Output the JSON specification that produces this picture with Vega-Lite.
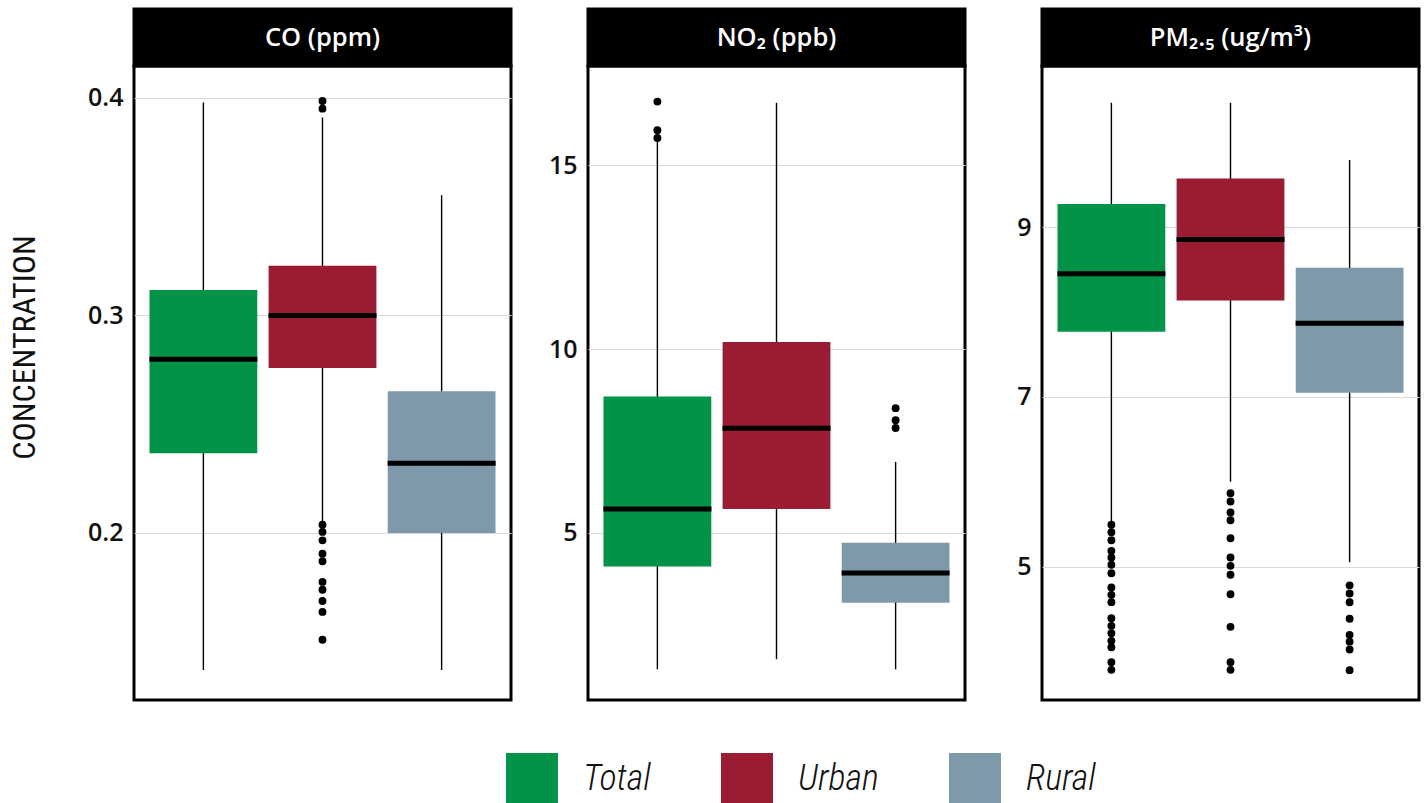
{
  "$schema": "https://vega.github.io/schema/vega-lite/v6.json",
  "background": "white",
  "padding": {"left": 6, "top": 7, "right": 0, "bottom": 0},
  "datasets": {
    "box": [
      {"pollutant": "CO", "group": "Total", "lo": 0.137, "q1": 0.2367, "med": 0.2799, "q3": 0.3117, "hi": 0.3979},
      {"pollutant": "CO", "group": "Urban", "lo": 0.2052, "q1": 0.2759, "med": 0.3, "q3": 0.3229, "hi": 0.391},
      {"pollutant": "CO", "group": "Rural", "lo": 0.137, "q1": 0.2, "med": 0.232, "q3": 0.2651, "hi": 0.3553},
      {"pollutant": "NO2", "group": "Total", "lo": 1.275, "q1": 4.075, "med": 5.64, "q3": 8.71, "hi": 15.65},
      {"pollutant": "NO2", "group": "Urban", "lo": 1.55, "q1": 5.64, "med": 7.84, "q3": 10.19, "hi": 16.71},
      {"pollutant": "NO2", "group": "Rural", "lo": 1.275, "q1": 3.09, "med": 3.9, "q3": 4.725, "hi": 6.925},
      {"pollutant": "PM", "group": "Total", "lo": 5.53, "q1": 7.771, "med": 8.453, "q3": 9.276, "hi": 10.472},
      {"pollutant": "PM", "group": "Urban", "lo": 6.0, "q1": 8.139, "med": 8.859, "q3": 9.579, "hi": 10.472},
      {"pollutant": "PM", "group": "Rural", "lo": 5.049, "q1": 7.051, "med": 7.869, "q3": 8.524, "hi": 9.796}
    ],
    "out": [
      {"pollutant": "CO", "group": "Urban", "value": 0.3986},
      {"pollutant": "CO", "group": "Urban", "value": 0.3951},
      {"pollutant": "CO", "group": "Urban", "value": 0.2038},
      {"pollutant": "CO", "group": "Urban", "value": 0.2005},
      {"pollutant": "CO", "group": "Urban", "value": 0.1966},
      {"pollutant": "CO", "group": "Urban", "value": 0.1905},
      {"pollutant": "CO", "group": "Urban", "value": 0.187},
      {"pollutant": "CO", "group": "Urban", "value": 0.1775},
      {"pollutant": "CO", "group": "Urban", "value": 0.1739},
      {"pollutant": "CO", "group": "Urban", "value": 0.1687},
      {"pollutant": "CO", "group": "Urban", "value": 0.1637},
      {"pollutant": "CO", "group": "Urban", "value": 0.1509},
      {"pollutant": "NO2", "group": "Total", "value": 16.74},
      {"pollutant": "NO2", "group": "Total", "value": 15.96},
      {"pollutant": "NO2", "group": "Total", "value": 15.75},
      {"pollutant": "NO2", "group": "Rural", "value": 8.39},
      {"pollutant": "NO2", "group": "Rural", "value": 8.06},
      {"pollutant": "NO2", "group": "Rural", "value": 7.85},
      {"pollutant": "PM", "group": "Total", "value": 5.492},
      {"pollutant": "PM", "group": "Total", "value": 5.405},
      {"pollutant": "PM", "group": "Total", "value": 5.31},
      {"pollutant": "PM", "group": "Total", "value": 5.185},
      {"pollutant": "PM", "group": "Total", "value": 5.106},
      {"pollutant": "PM", "group": "Total", "value": 5.02},
      {"pollutant": "PM", "group": "Total", "value": 4.921},
      {"pollutant": "PM", "group": "Total", "value": 4.752},
      {"pollutant": "PM", "group": "Total", "value": 4.666},
      {"pollutant": "PM", "group": "Total", "value": 4.579},
      {"pollutant": "PM", "group": "Total", "value": 4.39},
      {"pollutant": "PM", "group": "Total", "value": 4.3},
      {"pollutant": "PM", "group": "Total", "value": 4.213},
      {"pollutant": "PM", "group": "Total", "value": 4.123},
      {"pollutant": "PM", "group": "Total", "value": 4.048},
      {"pollutant": "PM", "group": "Total", "value": 3.871},
      {"pollutant": "PM", "group": "Total", "value": 3.781},
      {"pollutant": "PM", "group": "Urban", "value": 5.865},
      {"pollutant": "PM", "group": "Urban", "value": 5.767},
      {"pollutant": "PM", "group": "Urban", "value": 5.637},
      {"pollutant": "PM", "group": "Urban", "value": 5.546},
      {"pollutant": "PM", "group": "Urban", "value": 5.334},
      {"pollutant": "PM", "group": "Urban", "value": 5.106},
      {"pollutant": "PM", "group": "Urban", "value": 5.008},
      {"pollutant": "PM", "group": "Urban", "value": 4.902},
      {"pollutant": "PM", "group": "Urban", "value": 4.673},
      {"pollutant": "PM", "group": "Urban", "value": 4.288},
      {"pollutant": "PM", "group": "Urban", "value": 3.871},
      {"pollutant": "PM", "group": "Urban", "value": 3.781},
      {"pollutant": "PM", "group": "Rural", "value": 4.778},
      {"pollutant": "PM", "group": "Rural", "value": 4.681},
      {"pollutant": "PM", "group": "Rural", "value": 4.578},
      {"pollutant": "PM", "group": "Rural", "value": 4.383},
      {"pollutant": "PM", "group": "Rural", "value": 4.194},
      {"pollutant": "PM", "group": "Rural", "value": 4.113},
      {"pollutant": "PM", "group": "Rural", "value": 4.021},
      {"pollutant": "PM", "group": "Rural", "value": 3.777}
    ]
  },
  "columns": 3,
  "spacing": {"row": 0, "column": 77},
  "bounds": "flush",
  "concat": [
    {
      "width": 377, "height": 57,
      "data": {"values": [{"label": "CO (ppm)"}]},
      "view": {"fill": "black", "stroke": "black", "strokeWidth": 3},
      "mark": {"type": "text", "color": "white", "font": "Open Sans", "fontSize": 25.5, "fontWeight": 600},
      "encoding": {"text": {"field": "label", "type": "nominal"}}
    },
    {
      "width": 377, "height": 57,
      "data": {"values": [{"label": "NO₂ (ppb)"}]},
      "view": {"fill": "black", "stroke": "black", "strokeWidth": 3},
      "mark": {"type": "text", "color": "white", "font": "Open Sans", "fontSize": 25.5, "fontWeight": 600},
      "encoding": {"text": {"field": "label", "type": "nominal"}}
    },
    {
      "width": 377, "height": 57,
      "data": {"values": [{"label": "PM₂.₅ (ug/m³)"}]},
      "view": {"fill": "black", "stroke": "black", "strokeWidth": 3},
      "mark": {"type": "text", "color": "white", "font": "Open Sans", "fontSize": 25.5, "fontWeight": 600},
      "encoding": {"text": {"field": "label", "type": "nominal"}}
    },
    {
      "width": 377, "height": 634,
      "view": {"stroke": "black", "strokeWidth": 3},
      "layer": [
        {
          "data": {"name": "box"},
          "transform": [{"filter": "datum.pollutant === 'CO'"}],
          "mark": {"type": "rule", "color": "black", "strokeWidth": 1.4},
          "encoding": {
            "x": {"field": "group", "type": "nominal", "scale": {"domain": ["Total", "Urban", "Rural"], "paddingInner": 0.095, "paddingOuter": 0.13}, "axis": null},
            "y": {"field": "lo", "type": "quantitative", "title": "CONCENTRATION", "scale": {"domain": [0.1232, 0.4147], "nice": false, "zero": false}, "axis": {"values": [0.2, 0.3, 0.4], "format": ".1f", "minExtent": 48, "maxExtent": 48, "titlePadding": 45, "titleY": 281}},
            "y2": {"field": "hi"}
          }
        },
        {
          "data": {"name": "box"},
          "transform": [{"filter": "datum.pollutant === 'CO'"}],
          "mark": {"type": "bar"},
          "encoding": {
            "x": {"field": "group", "type": "nominal", "scale": {"domain": ["Total", "Urban", "Rural"], "paddingInner": 0.095, "paddingOuter": 0.13}, "axis": null},
            "y": {"field": "q1", "type": "quantitative", "title": "CONCENTRATION", "scale": {"domain": [0.1232, 0.4147], "nice": false, "zero": false}},
            "y2": {"field": "q3"},
            "color": {"field": "group", "type": "nominal", "scale": {"domain": ["Total", "Urban", "Rural"], "range": ["#039348", "#9a1b32", "#7e99aa"]}}
          }
        },
        {
          "data": {"name": "box"},
          "transform": [{"filter": "datum.pollutant === 'CO'"}],
          "mark": {"type": "tick", "color": "black", "thickness": 5, "size": 108, "opacity": 1},
          "encoding": {
            "x": {"field": "group", "type": "nominal", "scale": {"domain": ["Total", "Urban", "Rural"], "paddingInner": 0.095, "paddingOuter": 0.13}, "axis": null},
            "y": {"field": "med", "type": "quantitative", "title": "CONCENTRATION", "scale": {"domain": [0.1232, 0.4147], "nice": false, "zero": false}}
          }
        },
        {
          "data": {"name": "out"},
          "transform": [{"filter": "datum.pollutant === 'CO'"}],
          "mark": {"type": "point", "filled": true, "color": "black", "size": 62, "opacity": 1},
          "encoding": {
            "x": {"field": "group", "type": "nominal", "scale": {"domain": ["Total", "Urban", "Rural"], "paddingInner": 0.095, "paddingOuter": 0.13}, "axis": null},
            "y": {"field": "value", "type": "quantitative", "title": "CONCENTRATION", "scale": {"domain": [0.1232, 0.4147], "nice": false, "zero": false}}
          }
        }
      ]
    },
    {
      "width": 377, "height": 634,
      "view": {"stroke": "black", "strokeWidth": 3},
      "layer": [
        {
          "data": {"name": "box"},
          "transform": [{"filter": "datum.pollutant === 'NO2'"}],
          "mark": {"type": "rule", "color": "black", "strokeWidth": 1.4},
          "encoding": {
            "x": {"field": "group", "type": "nominal", "scale": {"domain": ["Total", "Urban", "Rural"], "paddingInner": 0.095, "paddingOuter": 0.13}, "axis": null},
            "y": {"field": "lo", "type": "quantitative", "title": null, "scale": {"domain": [0.44, 17.71], "nice": false, "zero": false}, "axis": {"values": [5, 10, 15], "format": "d"}},
            "y2": {"field": "hi"}
          }
        },
        {
          "data": {"name": "box"},
          "transform": [{"filter": "datum.pollutant === 'NO2'"}],
          "mark": {"type": "bar"},
          "encoding": {
            "x": {"field": "group", "type": "nominal", "scale": {"domain": ["Total", "Urban", "Rural"], "paddingInner": 0.095, "paddingOuter": 0.13}, "axis": null},
            "y": {"field": "q1", "type": "quantitative", "title": null, "scale": {"domain": [0.44, 17.71], "nice": false, "zero": false}},
            "y2": {"field": "q3"},
            "color": {"field": "group", "type": "nominal", "scale": {"domain": ["Total", "Urban", "Rural"], "range": ["#039348", "#9a1b32", "#7e99aa"]}}
          }
        },
        {
          "data": {"name": "box"},
          "transform": [{"filter": "datum.pollutant === 'NO2'"}],
          "mark": {"type": "tick", "color": "black", "thickness": 5, "size": 108, "opacity": 1},
          "encoding": {
            "x": {"field": "group", "type": "nominal", "scale": {"domain": ["Total", "Urban", "Rural"], "paddingInner": 0.095, "paddingOuter": 0.13}, "axis": null},
            "y": {"field": "med", "type": "quantitative", "title": null, "scale": {"domain": [0.44, 17.71], "nice": false, "zero": false}}
          }
        },
        {
          "data": {"name": "out"},
          "transform": [{"filter": "datum.pollutant === 'NO2'"}],
          "mark": {"type": "point", "filled": true, "color": "black", "size": 62, "opacity": 1},
          "encoding": {
            "x": {"field": "group", "type": "nominal", "scale": {"domain": ["Total", "Urban", "Rural"], "paddingInner": 0.095, "paddingOuter": 0.13}, "axis": null},
            "y": {"field": "value", "type": "quantitative", "title": null, "scale": {"domain": [0.44, 17.71], "nice": false, "zero": false}}
          }
        }
      ]
    },
    {
      "width": 377, "height": 634,
      "view": {"stroke": "black", "strokeWidth": 3},
      "layer": [
        {
          "data": {"name": "box"},
          "transform": [{"filter": "datum.pollutant === 'PM'"}],
          "mark": {"type": "rule", "color": "black", "strokeWidth": 1.4},
          "encoding": {
            "x": {"field": "group", "type": "nominal", "scale": {"domain": ["Total", "Urban", "Rural"], "paddingInner": 0.095, "paddingOuter": 0.13}, "axis": null},
            "y": {"field": "lo", "type": "quantitative", "title": null, "scale": {"domain": [3.425, 10.905], "nice": false, "zero": false}, "axis": {"values": [5, 7, 9], "format": "d"}},
            "y2": {"field": "hi"}
          }
        },
        {
          "data": {"name": "box"},
          "transform": [{"filter": "datum.pollutant === 'PM'"}],
          "mark": {"type": "bar"},
          "encoding": {
            "x": {"field": "group", "type": "nominal", "scale": {"domain": ["Total", "Urban", "Rural"], "paddingInner": 0.095, "paddingOuter": 0.13}, "axis": null},
            "y": {"field": "q1", "type": "quantitative", "title": null, "scale": {"domain": [3.425, 10.905], "nice": false, "zero": false}},
            "y2": {"field": "q3"},
            "color": {"field": "group", "type": "nominal", "scale": {"domain": ["Total", "Urban", "Rural"], "range": ["#039348", "#9a1b32", "#7e99aa"]}}
          }
        },
        {
          "data": {"name": "box"},
          "transform": [{"filter": "datum.pollutant === 'PM'"}],
          "mark": {"type": "tick", "color": "black", "thickness": 5, "size": 108, "opacity": 1},
          "encoding": {
            "x": {"field": "group", "type": "nominal", "scale": {"domain": ["Total", "Urban", "Rural"], "paddingInner": 0.095, "paddingOuter": 0.13}, "axis": null},
            "y": {"field": "med", "type": "quantitative", "title": null, "scale": {"domain": [3.425, 10.905], "nice": false, "zero": false}}
          }
        },
        {
          "data": {"name": "out"},
          "transform": [{"filter": "datum.pollutant === 'PM'"}],
          "mark": {"type": "point", "filled": true, "color": "black", "size": 62, "opacity": 1},
          "encoding": {
            "x": {"field": "group", "type": "nominal", "scale": {"domain": ["Total", "Urban", "Rural"], "paddingInner": 0.095, "paddingOuter": 0.13}, "axis": null},
            "y": {"field": "value", "type": "quantitative", "title": null, "scale": {"domain": [3.425, 10.905], "nice": false, "zero": false}}
          }
        }
      ]
    }
  ],
  "config": {
    "view": {"stroke": null},
    "axis": {
      "grid": true, "gridColor": "#d9d9d9", "gridWidth": 1,
      "domain": false, "ticks": false,
      "labelFont": "Open Sans", "labelFontSize": 25, "labelFontWeight": 600, "labelColor": "#111111", "labelPadding": 11,
      "titleFont": "Liberation Sans Narrow, Roboto Condensed, Roboto", "titleFontSize": 32, "titleFontWeight": "normal", "titleColor": "#111111"
    },
    "legend": {
      "orient": "none", "legendX": 372, "legendY": 744,
      "direction": "horizontal", "title": null, "padding": 0,
      "symbolType": "square", "symbolSize": 2704, "symbolStrokeWidth": 0, "symbolOpacity": 1,
      "labelFont": "Liberation Sans Narrow, Roboto Condensed, Roboto", "labelFontStyle": "italic", "labelFontSize": 36, "labelFontWeight": 300, "labelColor": "#111111",
      "labelOffset": 25, "columnPadding": 70, "labelLimit": 300
    }
  }
}
